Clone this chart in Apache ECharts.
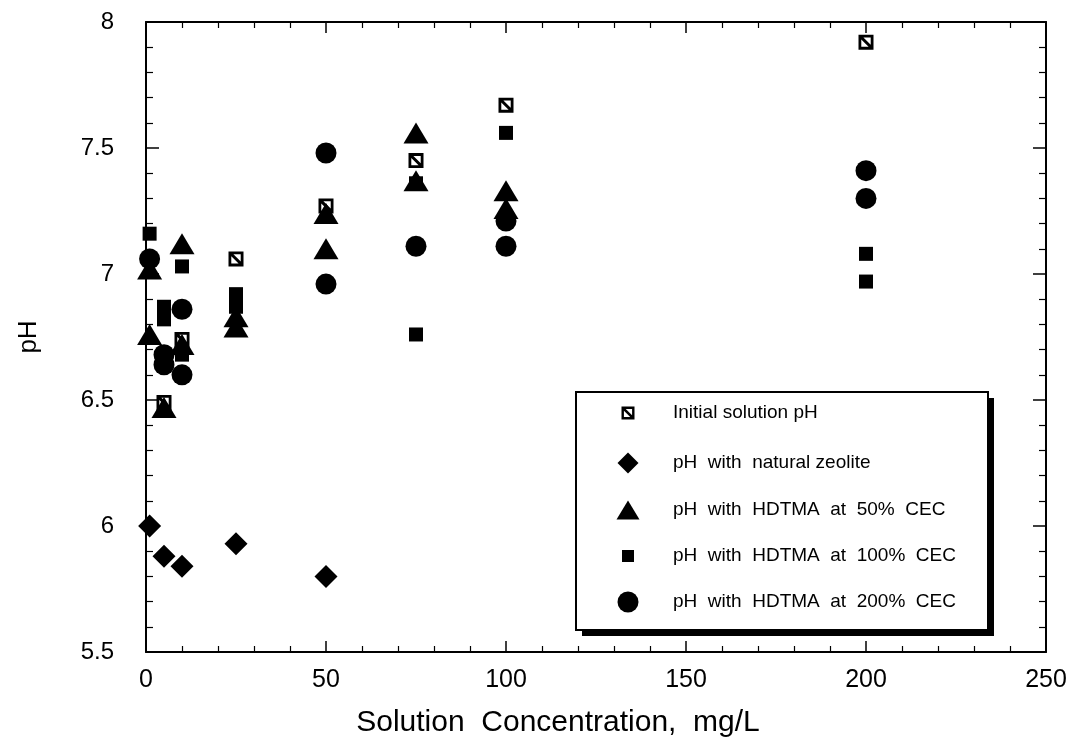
<!DOCTYPE html>
<html>
<head>
<meta charset="utf-8">
<title>pH vs Solution Concentration</title>
<script src="https://cdn.jsdelivr.net/npm/echarts@6/dist/echarts.min.js"></script>
<style>
  html, body { margin: 0; padding: 0; background: #ffffff; }
  #chart { width: 1084px; height: 756px; }
</style>
</head>
<body>
<div id="chart"></div>
<script>
// ---- data: solution concentration (mg/L) and measured pH ----
const seriesNames = [
  'Initial solution pH',
  'pH  with  natural zeolite',
  'pH  with  HDTMA  at  50%  CEC',
  'pH  with  HDTMA  at  100%  CEC',
  'pH  with  HDTMA  at  200%  CEC'
];

const initialX = [5, 10, 25, 50, 75, 100, 200];
const initialY = [6.49, 6.74, 7.06, 7.27, 7.45, 7.67, 7.92];

const zeoliteX = [1, 5, 10, 25, 50];
const zeoliteY = [6.00, 5.88, 5.84, 5.93, 5.80];

const cec50X = [1, 1, 5, 10, 10, 25, 25, 50, 50, 75, 75, 100, 100];
const cec50Y = [7.02, 6.76, 6.47, 7.12, 6.72, 6.83, 6.79, 7.24, 7.10, 7.56, 7.37, 7.33, 7.26];

const cec100X = [1, 5, 5, 10, 10, 25, 25, 75, 75, 100, 200, 200];
const cec100Y = [7.16, 6.87, 6.82, 7.03, 6.68, 6.92, 6.87, 7.36, 6.76, 7.56, 7.08, 6.97];

const cec200X = [1, 5, 5, 10, 10, 50, 50, 75, 100, 100, 200, 200];
const cec200Y = [7.06, 6.68, 6.64, 6.86, 6.60, 7.48, 6.96, 7.11, 7.21, 7.11, 7.41, 7.30];

const xTicks = { min: 0, max: 250, step: 50 };
const yTicks = { min: 5.5, max: 8, step: 0.5 };

// ---- helpers ----
const pairs = (xs, ys) => xs.map((x, i) => [x, ys[i]]);

// open square crossed by a "\" diagonal
const hatchedSquare =
  'path://M0,0L14,0L14,14L0,14Z' +
  'M2.6,2.6L2.6,11.4L11.4,11.4L11.4,2.6Z' +
  'M2.6,2.6L4.6,2.6L11.4,9.4L11.4,11.4L9.4,11.4L2.6,4.6Z';

const FONT = 'Liberation Sans, Arial, Helvetica, sans-serif';
const INK = '#000000';

const markers = [
  { data: pairs(initialX, initialY), symbol: hatchedSquare, size: 15, legendSize: [13, 13] },
  { data: pairs(zeoliteX, zeoliteY), symbol: 'diamond', size: 23, legendSize: [21, 21] },
  { data: pairs(cec50X, cec50Y), symbol: 'triangle', size: [25, 21], legendSize: [23, 19] },
  { data: pairs(cec100X, cec100Y), symbol: 'rect', size: 14, legendSize: [12, 12] },
  { data: pairs(cec200X, cec200Y), symbol: 'circle', size: 21, legendSize: [21, 21] }
];

const series = markers.map((m, i) => ({
  name: seriesNames[i],
  type: 'scatter',
  xAxisIndex: 0,
  yAxisIndex: 0,
  symbol: m.symbol,
  symbolSize: m.size,
  itemStyle: { color: INK, opacity: 1 },
  emphasis: { disabled: true },
  data: m.data
}));

// one legend block per row so every key symbol keeps its own size
const legendRowCenters = [413, 463, 510, 556, 602];
const legendIconCenterX = 628;
const legendTextLeft = 673;
const legends = markers.map((m, i) => {
  const w = m.legendSize[0], h = m.legendSize[1];
  return {
    data: [seriesNames[i]],
    orient: 'vertical',
    left: legendIconCenterX - w / 2,
    top: legendRowCenters[i] - 12,
    padding: 0,
    z: 20,
    itemWidth: w,
    itemHeight: h,
    selectedMode: false,
    itemStyle: { color: INK },
    textStyle: {
      fontFamily: FONT,
      fontSize: 19,
      color: INK,
      lineHeight: 24,
      padding: [0, 0, 0, legendTextLeft - (legendIconCenterX + w / 2) - 5]
    }
  };
});

const frameLine = { show: true, onZero: false, lineStyle: { color: INK, width: 2 } };

function xAxisDef(position, showLabels) {
  return {
    type: 'value',
    position: position,
    min: xTicks.min, max: xTicks.max, interval: xTicks.step,
    axisLine: frameLine,
    axisTick: { show: true, inside: true, length: 11, lineStyle: { color: INK, width: 1.5 } },
    minorTick: { show: true, splitNumber: 5, length: 6, lineStyle: { color: INK, width: 1.2 } },
    splitLine: { show: false },
    minorSplitLine: { show: false },
    axisLabel: {
      show: showLabels, margin: 16, color: INK,
      fontFamily: FONT, fontSize: 25
    },
    name: showLabels ? 'Solution  Concentration,  mg/L' : '',
    nameLocation: 'middle',
    nameGap: 56,
    nameTextStyle: {
      fontFamily: FONT, fontSize: 30, color: INK,
      padding: [0, 76, 0, 0]
    }
  };
}

function yAxisDef(position, showLabels) {
  return {
    type: 'value',
    position: position,
    min: yTicks.min, max: yTicks.max, interval: yTicks.step,
    axisLine: frameLine,
    axisTick: { show: true, inside: true, length: 13, lineStyle: { color: INK, width: 1.5 } },
    minorTick: { show: true, splitNumber: 5, length: 7, lineStyle: { color: INK, width: 1.2 } },
    splitLine: { show: false },
    minorSplitLine: { show: false },
    axisLabel: {
      show: showLabels, margin: 32, color: INK,
      fontFamily: FONT, fontSize: 24
    },
    name: showLabels ? 'pH' : '',
    nameLocation: 'middle',
    nameGap: 104,
    nameTextStyle: { fontFamily: FONT, fontSize: 26, color: INK }
  };
}

const chart = echarts.init(document.getElementById('chart'), null, { renderer: 'canvas' });

chart.setOption({
  backgroundColor: '#ffffff',
  animation: false,
  grid: { left: 146, right: 38, top: 22, bottom: 104, containLabel: false },
  xAxis: [xAxisDef('bottom', true), xAxisDef('top', false)],
  yAxis: [yAxisDef('left', true), yAxisDef('right', false)],
  legend: legends,
  // key frame with its drop shadow, kept beneath the key entries
  graphic: [
    { type: 'rect', z: 1, shape: { x: 582, y: 398, width: 412, height: 238 },
      style: { fill: INK } },
    { type: 'rect', z: 2, shape: { x: 576, y: 392, width: 412, height: 238 },
      style: { fill: '#ffffff', stroke: INK, lineWidth: 2 } }
  ],
  series: series
});
</script>
</body>
</html>
